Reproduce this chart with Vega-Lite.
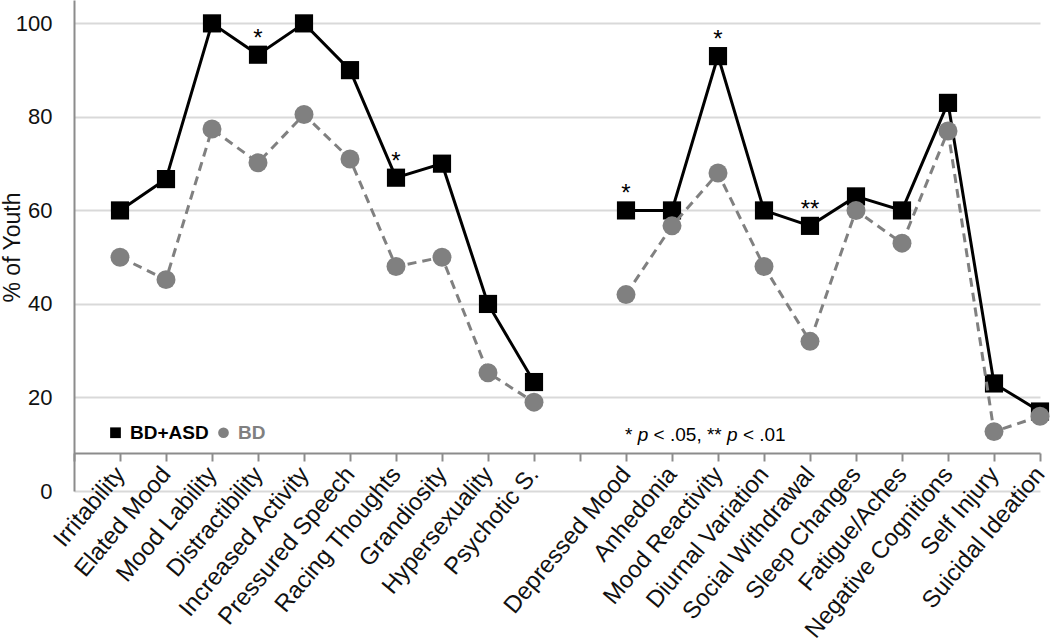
{
  "$schema": "https://vega.github.io/schema/vega-lite/v6.json",
  "width": 966,
  "height": 491,
  "autosize": {"type": "none"},
  "padding": {"left": 74, "top": 0, "right": 10, "bottom": 151},
  "config": {"font": "Liberation Sans", "view": {"stroke": null}},
  "datasets": {
    "pts": [
      {"symptom": "Irritability", "section": "M", "series": "BD+ASD", "pct": 60, "sig": ""},
      {"symptom": "Elated Mood", "section": "M", "series": "BD+ASD", "pct": 66.7, "sig": ""},
      {"symptom": "Mood Lability", "section": "M", "series": "BD+ASD", "pct": 100, "sig": ""},
      {"symptom": "Distractibility", "section": "M", "series": "BD+ASD", "pct": 93.3, "sig": "*"},
      {"symptom": "Increased Activity", "section": "M", "series": "BD+ASD", "pct": 100, "sig": ""},
      {"symptom": "Pressured Speech", "section": "M", "series": "BD+ASD", "pct": 90, "sig": ""},
      {"symptom": "Racing Thoughts", "section": "M", "series": "BD+ASD", "pct": 67, "sig": "*"},
      {"symptom": "Grandiosity", "section": "M", "series": "BD+ASD", "pct": 70, "sig": ""},
      {"symptom": "Hypersexuality", "section": "M", "series": "BD+ASD", "pct": 40, "sig": ""},
      {"symptom": "Psychotic S.", "section": "M", "series": "BD+ASD", "pct": 23.3, "sig": ""},
      {"symptom": "Depressed Mood", "section": "D", "series": "BD+ASD", "pct": 60, "sig": "*"},
      {"symptom": "Anhedonia", "section": "D", "series": "BD+ASD", "pct": 60, "sig": ""},
      {"symptom": "Mood Reactivity", "section": "D", "series": "BD+ASD", "pct": 93, "sig": "*"},
      {"symptom": "Diurnal Variation", "section": "D", "series": "BD+ASD", "pct": 60, "sig": ""},
      {"symptom": "Social Withdrawal", "section": "D", "series": "BD+ASD", "pct": 56.7, "sig": "**"},
      {"symptom": "Sleep Changes", "section": "D", "series": "BD+ASD", "pct": 63, "sig": ""},
      {"symptom": "Fatigue/Aches", "section": "D", "series": "BD+ASD", "pct": 60, "sig": ""},
      {"symptom": "Negative Cognitions", "section": "D", "series": "BD+ASD", "pct": 83, "sig": ""},
      {"symptom": "Self Injury", "section": "D", "series": "BD+ASD", "pct": 23, "sig": ""},
      {"symptom": "Suicidal Ideation", "section": "D", "series": "BD+ASD", "pct": 17, "sig": ""},
      {"symptom": "Irritability", "section": "M", "series": "BD", "pct": 50, "sig": ""},
      {"symptom": "Elated Mood", "section": "M", "series": "BD", "pct": 45.2, "sig": ""},
      {"symptom": "Mood Lability", "section": "M", "series": "BD", "pct": 77.4, "sig": ""},
      {"symptom": "Distractibility", "section": "M", "series": "BD", "pct": 70.2, "sig": ""},
      {"symptom": "Increased Activity", "section": "M", "series": "BD", "pct": 80.5, "sig": ""},
      {"symptom": "Pressured Speech", "section": "M", "series": "BD", "pct": 71, "sig": ""},
      {"symptom": "Racing Thoughts", "section": "M", "series": "BD", "pct": 48, "sig": ""},
      {"symptom": "Grandiosity", "section": "M", "series": "BD", "pct": 50, "sig": ""},
      {"symptom": "Hypersexuality", "section": "M", "series": "BD", "pct": 25.3, "sig": ""},
      {"symptom": "Psychotic S.", "section": "M", "series": "BD", "pct": 19, "sig": ""},
      {"symptom": "Depressed Mood", "section": "D", "series": "BD", "pct": 42, "sig": ""},
      {"symptom": "Anhedonia", "section": "D", "series": "BD", "pct": 56.7, "sig": ""},
      {"symptom": "Mood Reactivity", "section": "D", "series": "BD", "pct": 68, "sig": ""},
      {"symptom": "Diurnal Variation", "section": "D", "series": "BD", "pct": 48, "sig": ""},
      {"symptom": "Social Withdrawal", "section": "D", "series": "BD", "pct": 32, "sig": ""},
      {"symptom": "Sleep Changes", "section": "D", "series": "BD", "pct": 60, "sig": ""},
      {"symptom": "Fatigue/Aches", "section": "D", "series": "BD", "pct": 53, "sig": ""},
      {"symptom": "Negative Cognitions", "section": "D", "series": "BD", "pct": 77, "sig": ""},
      {"symptom": "Self Injury", "section": "D", "series": "BD", "pct": 12.7, "sig": ""},
      {"symptom": "Suicidal Ideation", "section": "D", "series": "BD", "pct": 16, "sig": ""}
    ],
    "note": [{"symptom": "Depressed Mood", "pct": 10.6}]
  },
  "data": {"name": "pts"},
  "encoding": {
    "x": {
      "field": "symptom",
      "type": "nominal",
      "scale": {
        "type": "point",
        "padding": 0,
        "domain": ["_start", "Irritability", "Elated Mood", "Mood Lability", "Distractibility", "Increased Activity", "Pressured Speech", "Racing Thoughts", "Grandiosity", "Hypersexuality", "Psychotic S.", "_gap", "Depressed Mood", "Anhedonia", "Mood Reactivity", "Diurnal Variation", "Social Withdrawal", "Sleep Changes", "Fatigue/Aches", "Negative Cognitions", "Self Injury", "Suicidal Ideation"]
      },
      "axis": {
        "title": null,
        "orient": "bottom",
        "offset": -38,
        "grid": false,
        "domainColor": "#8c8c8c",
        "domainWidth": 2,
        "tickColor": "#8c8c8c",
        "tickWidth": 2,
        "tickSize": 8,
        "encode": {"ticks": {"update": {"y": {"value": -7}, "y2": {"value": 8}}}},
        "labelExpr": "indexof(datum.label, '_') === 0 ? '' : datum.label",
        "labelAngle": -50,
        "labelAlign": "right",
        "labelBaseline": "middle",
        "labelFontSize": 24,
        "labelColor": "#111111",
        "labelPadding": 9,
        "labelOverlap": false,
        "labelLimit": 0,
        "labelBound": false,
        "labelFlush": false
      }
    },
    "y": {
      "field": "pct",
      "type": "quantitative",
      "scale": {"domain": [0, 105], "nice": false, "zero": true},
      "axis": {
        "values": [0, 20, 40, 60, 80, 100],
        "grid": true,
        "gridColor": "#d9d9d9",
        "gridWidth": 2,
        "domainColor": "#8c8c8c",
        "domainWidth": 2,
        "ticks": false,
        "tickSize": 0,
        "labelFontSize": 22,
        "labelColor": "#111111",
        "labelPadding": 22,
        "title": "% of Youth",
        "titleFontSize": 23,
        "titleFontWeight": "normal",
        "titleColor": "#111111",
        "titleAngle": -90,
        "titleAlign": "center",
        "titleBaseline": "middle",
        "titleX": -62,
        "titleY": 247
      }
    }
  },
  "layer": [
    {
      "transform": [{"filter": "datum.series === 'BD+ASD'"}],
      "mark": {"type": "line", "color": "#000000", "strokeWidth": 3},
      "encoding": {"detail": {"field": "section"}}
    },
    {
      "transform": [{"filter": "datum.series === 'BD+ASD'"}],
      "mark": {"type": "point", "filled": true, "size": 330, "opacity": 1},
      "encoding": {
        "color": {
          "field": "series",
          "type": "nominal",
          "scale": {"domain": ["BD+ASD", "BD"], "range": ["#000000", "#808080"]},
          "legend": {
            "orient": "none",
            "legendX": 32,
            "legendY": 423,
            "direction": "horizontal",
            "title": null,
            "symbolSize": 115,
            "symbolOpacity": 1,
            "labelFontSize": 19,
            "labelFontWeight": "bold",
            "labelOffset": 5,
            "columnPadding": 5,
            "padding": 0,
            "encode": {"labels": {"update": {"fill": {"signal": "datum.value === 'BD' ? '#808080' : '#000000'"}}}}
          }
        },
        "shape": {
          "field": "series",
          "type": "nominal",
          "scale": {"domain": ["BD+ASD", "BD"], "range": ["square", "circle"]}
        }
      }
    },
    {
      "transform": [{"filter": "datum.series === 'BD'"}],
      "mark": {"type": "line", "color": "#808080", "strokeWidth": 3, "strokeDash": [9, 6]},
      "encoding": {"detail": {"field": "section"}}
    },
    {
      "transform": [{"filter": "datum.series === 'BD'"}],
      "mark": {"type": "point", "filled": true, "size": 360, "opacity": 1},
      "encoding": {
        "color": {"field": "series", "type": "nominal"},
        "shape": {"field": "series", "type": "nominal"}
      }
    },
    {
      "transform": [{"filter": "datum.sig !== ''"}],
      "mark": {"type": "text", "fontSize": 24, "dy": -9, "baseline": "alphabetic", "align": "center", "color": "#000000"},
      "encoding": {"text": {"field": "sig"}}
    },
    {
      "data": {"name": "note"},
      "mark": {"type": "text", "text": "*", "fontSize": 19, "align": "left", "baseline": "alphabetic", "dx": -1, "color": "#000000"}
    },
    {
      "data": {"name": "note"},
      "mark": {"type": "text", "text": "p", "fontSize": 19, "fontStyle": "italic", "align": "left", "baseline": "alphabetic", "dx": 11.7, "color": "#000000"}
    },
    {
      "data": {"name": "note"},
      "mark": {"type": "text", "text": "< .05, **", "fontSize": 19, "align": "left", "baseline": "alphabetic", "dx": 27.6, "color": "#000000"}
    },
    {
      "data": {"name": "note"},
      "mark": {"type": "text", "text": "p", "fontSize": 19, "fontStyle": "italic", "align": "left", "baseline": "alphabetic", "dx": 101, "color": "#000000"}
    },
    {
      "data": {"name": "note"},
      "mark": {"type": "text", "text": "< .01", "fontSize": 19, "align": "left", "baseline": "alphabetic", "dx": 116.9, "color": "#000000"}
    }
  ]
}
